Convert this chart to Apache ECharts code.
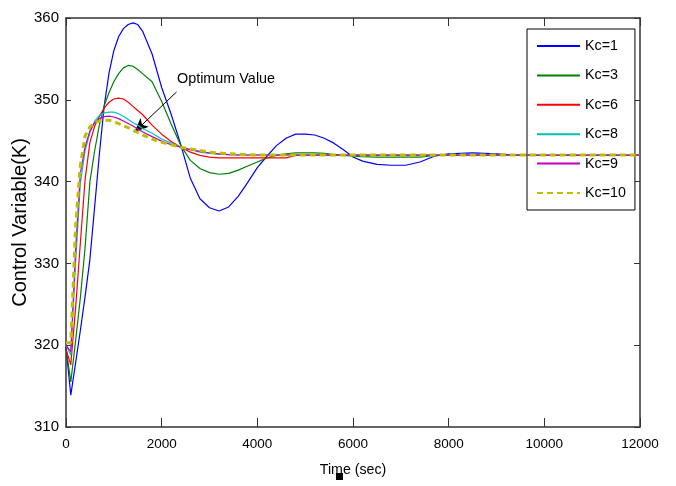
<!DOCTYPE html>
<html>
<head>
<meta charset="utf-8">
<script src="https://cdn.jsdelivr.net/npm/echarts@6/dist/echarts.min.js"></script>
<style>
html,body{margin:0;padding:0;background:#fff;}
#chart{width:676px;height:486px;}
</style>
</head>
<body>
<div id="chart"></div>
<script>
// Time samples (sec)
var timeSec = [0,100,200,300,400,500,600,700,800,900,1000,1100,1200,1300,1400,1500,1600,
  1800,2000,2200,2400,2600,2800,3000,3200,3400,3600,3800,4000,4200,4400,4600,4800,5000,5200,5400,5600,5800,6000,6200,
  6500,6800,7100,7400,7700,8000,8500,9000,9500,10000,11000,12000];

var kc1 = [319.8,313.9,317.8,321.8,326.0,330.5,337.0,343.5,349.3,353.3,356.0,357.7,358.7,359.2,359.4,359.2,358.4,
  355.6,351.5,348.2,344.5,340.4,337.9,336.8,336.4,336.9,338.2,339.9,341.7,343.1,344.4,345.3,345.8,345.8,345.7,345.3,344.7,343.9,343.0,342.5,
  342.1,342.0,342.0,342.4,343.1,343.4,343.5,343.4,343.2,343.2,343.2,343.2];
var kc3 = [319.7,315.5,320.5,325.8,332.0,340.0,343.8,347.0,349.3,350.9,352.2,353.2,353.9,354.2,354.1,353.7,353.2,
  352.2,349.8,347.0,344.4,342.6,341.6,341.1,340.9,341.0,341.4,341.9,342.4,342.9,343.2,343.4,343.5,343.5,343.5,343.45,343.3,343.2,343.1,343.05,
  343.0,343.0,343.0,343.0,343.2,343.2,343.2,343.2,343.2,343.2,343.2,343.2];
var kc6 = [319.5,317.6,324.5,332.5,340.3,344.8,346.8,348.0,349.0,349.7,350.1,350.2,350.1,349.7,349.2,348.7,348.2,
  346.9,345.8,344.9,344.2,343.6,343.2,343.0,342.9,342.9,342.9,342.9,342.9,342.9,342.9,342.9,343.2,343.2,343.2,343.2,343.2,343.2,343.2,343.2,
  343.2,343.2,343.2,343.2,343.2,343.2,343.2,343.2,343.2,343.2,343.2,343.2];
var kc8 = [320.0,318.8,330.0,339.8,343.8,346.0,347.4,348.1,348.4,348.5,348.5,348.3,348.0,347.6,347.2,346.9,346.5,
  345.9,345.2,344.7,344.2,343.9,343.6,343.45,343.35,343.3,343.25,343.25,343.25,343.25,343.25,343.25,343.25,343.25,343.25,343.25,343.25,343.25,343.25,343.25,
  343.25,343.25,343.25,343.25,343.25,343.25,343.25,343.25,343.25,343.25,343.25,343.25];
var kc9 = [320.0,319.2,331.5,341.0,344.3,346.2,347.2,347.7,347.95,348.0,347.9,347.7,347.4,347.1,346.8,346.4,346.1,
  345.5,344.95,344.5,344.2,343.9,343.7,343.5,343.4,343.3,343.25,343.25,343.25,343.25,343.25,343.25,343.25,343.25,343.25,343.25,343.25,343.25,343.25,343.25,
  343.25,343.25,343.25,343.25,343.25,343.25,343.25,343.25,343.25,343.25,343.25,343.25];
var kc10 = [320.3,320.3,334.4,342.0,345.6,346.7,347.2,347.4,347.5,347.5,347.3,347.1,346.8,346.6,346.3,346.0,345.7,
  345.2,344.8,344.5,344.2,344.0,343.8,343.6,343.5,343.4,343.35,343.3,343.25,343.25,343.25,343.25,343.25,343.25,343.25,343.25,343.25,343.25,343.25,343.25,
  343.25,343.25,343.25,343.25,343.25,343.25,343.25,343.25,343.25,343.25,343.25,343.25];

var seriesNames = ['Kc=1','Kc=3','Kc=6','Kc=8','Kc=9','Kc=10'];
var seriesValues = [kc1, kc3, kc6, kc8, kc9, kc10];
var seriesColors = ['#0000ff','#008000','#ff0000','#00bfbf','#bf00bf','#bfbf00'];

// annotation (data coordinates)
var annotText = 'Optimum Value';
var annotTextAt = [2320, 352.55];
var annotArrowFrom = [2310, 350.95];
var annotArrowTo = [1432, 346.06];

var xTicks = {min: 0, max: 12000, interval: 2000};
var yTicks = {min: 310, max: 360, interval: 10};

var FONT = '"Liberation Sans", Arial, sans-serif';
var AXC = '#333';

function mkSeries(i) {
  var s = {
    name: seriesNames[i],
    type: 'line',
    xAxisIndex: 0,
    yAxisIndex: 0,
    showSymbol: false,
    symbol: 'none',
    smooth: false,
    data: timeSec.map(function (t, k) { return [t, seriesValues[i][k]]; }),
    lineStyle: {color: seriesColors[i], width: 1.2},
    itemStyle: {color: seriesColors[i]},
    z: 2 + i
  };
  if (i === 5) {
    s.lineStyle = {color: seriesColors[i], width: 3, type: [6, 4]};
    s.markLine = {
      silent: true,
      symbol: ['none', 'arrow'],
      symbolSize: [9, 14],
      label: {show: false},
      lineStyle: {color: '#000', width: 1, type: 'solid'},
      data: [[{coord: annotArrowFrom}, {coord: annotArrowTo}]]
    };
    s.markPoint = {
      silent: true,
      symbol: 'rect',
      symbolSize: 0,
      label: {show: true, position: 'right', distance: 0, formatter: annotText,
        color: '#000', fontSize: 14.4, fontFamily: FONT},
      data: [{coord: annotTextAt}]
    };
  }
  return s;
}

var chart = echarts.init(document.getElementById('chart'), null, {renderer: 'canvas'});
chart.setOption({
  animation: false,
  backgroundColor: '#fff',
  grid: {left: 66, right: 36, top: 18, bottom: 59, containLabel: false, outerBoundsMode: 'none'},
  legend: {
    orient: 'vertical',
    left: 527, top: 29,
    itemWidth: 43, itemHeight: 14, itemGap: 15.4,
    padding: [10, 9, 10, 9],
    borderColor: '#000', borderWidth: 1, backgroundColor: '#fff',
    itemStyle: {opacity: 0, borderWidth: 0},
    textStyle: {fontSize: 14.3, lineHeight: 14, color: '#000', fontFamily: FONT},
    data: seriesNames
  },
  xAxis: [{
    type: 'value', position: 'bottom', min: xTicks.min, max: xTicks.max, interval: xTicks.interval,
    name: 'Time (sec)', nameLocation: 'middle', nameGap: 36,
    nameTextStyle: {fontSize: 14.2, color: '#000', fontFamily: FONT},
    axisLine: {show: true, onZero: false, lineStyle: {color: AXC, width: 1.5}},
    axisTick: {show: true, inside: true, length: 9, lineStyle: {color: AXC}},
    axisLabel: {fontSize: 13.5, color: '#000', fontFamily: FONT, margin: 10,
      formatter: function (v) { return String(v); }},
    splitLine: {show: false}
  }, {
    type: 'value', position: 'top', min: xTicks.min, max: xTicks.max, interval: xTicks.interval,
    axisLine: {show: true, onZero: false, lineStyle: {color: AXC, width: 1.5}},
    axisTick: {show: true, inside: true, length: 8, lineStyle: {color: AXC}},
    axisLabel: {show: false},
    splitLine: {show: false}
  }],
  yAxis: [{
    type: 'value', position: 'left', min: yTicks.min, max: yTicks.max, interval: yTicks.interval,
    name: 'Control Variable(K)', nameLocation: 'middle', nameGap: 36, nameMoveOverlap: false,
    nameTextStyle: {fontSize: 20, color: '#000', fontFamily: FONT},
    axisLine: {show: true, onZero: false, lineStyle: {color: AXC, width: 1.5}},
    axisTick: {show: true, inside: true, length: 5, lineStyle: {color: AXC}},
    axisLabel: {fontSize: 15, color: '#000', fontFamily: FONT, margin: 7,
      formatter: function (v) { return String(v); }},
    splitLine: {show: false}
  }, {
    type: 'value', position: 'right', min: yTicks.min, max: yTicks.max, interval: yTicks.interval,
    axisLine: {show: true, onZero: false, lineStyle: {color: AXC, width: 1.5}},
    axisTick: {show: true, inside: true, length: 6, lineStyle: {color: AXC}},
    axisLabel: {show: false},
    splitLine: {show: false}
  }],
  graphic: [{
    type: 'rect', left: 336, top: 473, shape: {width: 7, height: 7},
    style: {fill: '#000'}, z: 100
  }],
  series: [0, 1, 2, 3, 4, 5].map(mkSeries)
});
</script>
</body>
</html>
